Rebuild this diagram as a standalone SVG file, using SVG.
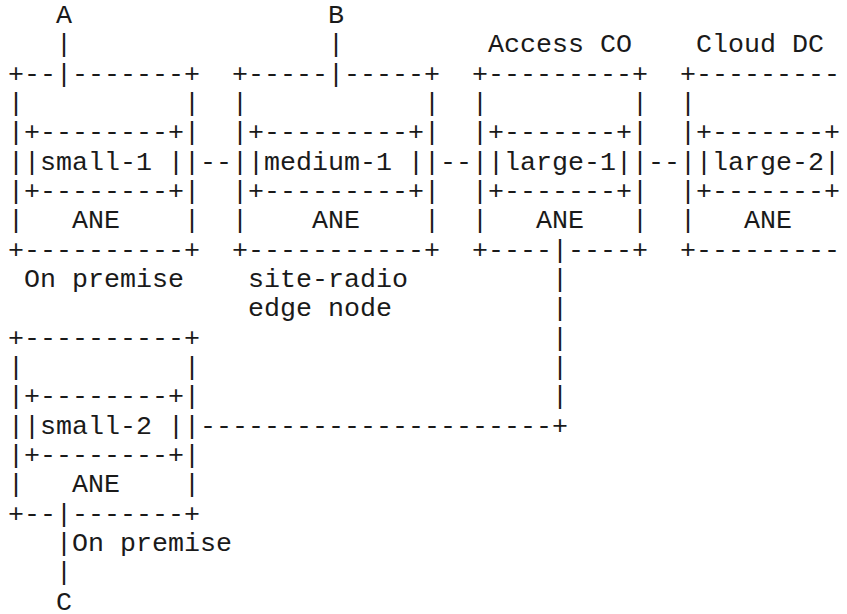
<svg xmlns="http://www.w3.org/2000/svg" width="847" height="614" viewBox="0 0 847 614" xml:space="preserve">
<style>
.t { font-family: "Liberation Mono", "Courier New", monospace; font-size: 26.667px; fill: #1a1a1a; white-space: pre; }
</style>
<rect width="847" height="614" fill="#ffffff"/>
<g id="labels">
<text class="t" x="56" y="23">A</text>
<text class="t" x="328" y="23">B</text>
<text class="t" x="488" y="52.33">Access CO</text>
<text class="t" x="696" y="52.33">Cloud DC</text>
<text class="t" x="24" y="287">On premise</text>
<text class="t" x="248" y="287">site-radio</text>
<text class="t" x="248" y="316.33">edge node</text>
<text class="t" x="72" y="551">On premise</text>
<text class="t" x="56" y="609.67">C</text>
</g>
<g id="node-small-1">
<text class="t" x="8" y="81.67">+--|-------+</text>
<text class="t" x="8" y="111">|</text>
<text class="t" x="184" y="111">|</text>
<text class="t" x="8" y="140.33">|+--------+|</text>
<text class="t" x="8" y="169.67">||small-1 ||</text>
<text class="t" x="8" y="199">|+--------+|</text>
<text class="t" x="8" y="228.33">|</text>
<text class="t" x="72" y="228.33">ANE</text>
<text class="t" x="184" y="228.33">|</text>
<text class="t" x="8" y="257.67">+----------+</text>
</g>
<g id="node-medium-1">
<text class="t" x="232" y="81.67">+-----|-----+</text>
<text class="t" x="232" y="111">|</text>
<text class="t" x="424" y="111">|</text>
<text class="t" x="232" y="140.33">|+---------+|</text>
<text class="t" x="232" y="169.67">||medium-1 ||</text>
<text class="t" x="232" y="199">|+---------+|</text>
<text class="t" x="232" y="228.33">|</text>
<text class="t" x="312" y="228.33">ANE</text>
<text class="t" x="424" y="228.33">|</text>
<text class="t" x="232" y="257.67">+-----------+</text>
</g>
<g id="node-large-1">
<text class="t" x="472" y="81.67">+---------+</text>
<text class="t" x="472" y="111">|</text>
<text class="t" x="632" y="111">|</text>
<text class="t" x="472" y="140.33">|+-------+|</text>
<text class="t" x="472" y="169.67">||large-1||</text>
<text class="t" x="472" y="199">|+-------+|</text>
<text class="t" x="472" y="228.33">|</text>
<text class="t" x="536" y="228.33">ANE</text>
<text class="t" x="632" y="228.33">|</text>
<text class="t" x="472" y="257.67">+----|----+</text>
</g>
<g id="node-large-2">
<text class="t" x="680" y="81.67">+---------</text>
<text class="t" x="680" y="111">|</text>
<text class="t" x="680" y="140.33">|+-------+</text>
<text class="t" x="680" y="169.67">||large-2|</text>
<text class="t" x="680" y="199">|+-------+</text>
<text class="t" x="680" y="228.33">|</text>
<text class="t" x="744" y="228.33">ANE</text>
<text class="t" x="680" y="257.67">+---------</text>
</g>
<g id="node-small-2">
<text class="t" x="8" y="345.67">+----------+</text>
<text class="t" x="8" y="375">|</text>
<text class="t" x="184" y="375">|</text>
<text class="t" x="8" y="404.33">|+--------+|</text>
<text class="t" x="8" y="433.67">||small-2 ||</text>
<text class="t" x="8" y="463">|+--------+|</text>
<text class="t" x="8" y="492.33">|</text>
<text class="t" x="72" y="492.33">ANE</text>
<text class="t" x="184" y="492.33">|</text>
<text class="t" x="8" y="521.67">+--|-------+</text>
</g>
<g id="connectors">
<text class="t" x="56" y="52.33">|</text>
<text class="t" x="328" y="52.33">|</text>
<text class="t" x="200" y="169.67">--</text>
<text class="t" x="440" y="169.67">--</text>
<text class="t" x="648" y="169.67">--</text>
<text class="t" x="552" y="287">|</text>
<text class="t" x="552" y="316.33">|</text>
<text class="t" x="552" y="345.67">|</text>
<text class="t" x="552" y="375">|</text>
<text class="t" x="552" y="404.33">|</text>
<text class="t" x="200" y="433.67">----------------------+</text>
<text class="t" x="56" y="551">|</text>
<text class="t" x="56" y="580.33">|</text>
</g>
</svg>
